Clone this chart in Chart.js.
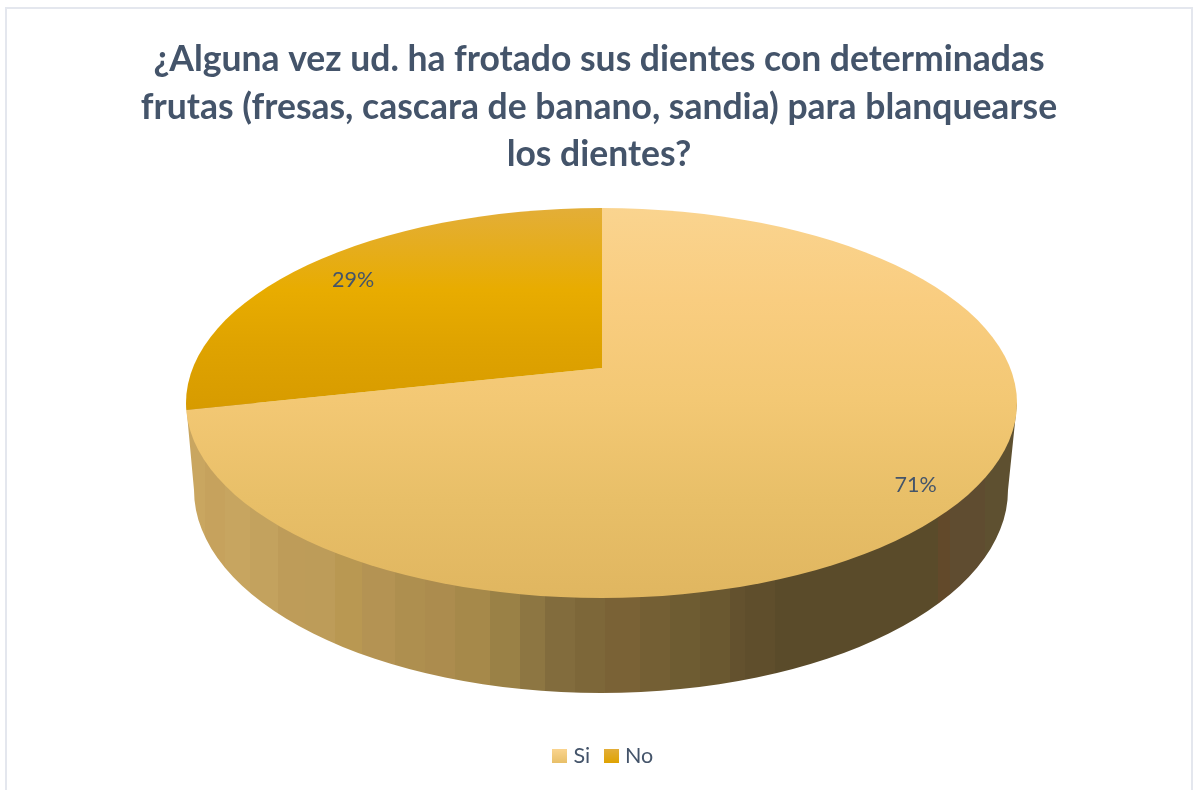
<!DOCTYPE html>
<html lang="es">
<head>
<meta charset="utf-8">
<title>Blanqueamiento con frutas</title>
<script src="https://cdn.jsdelivr.net/npm/chart.js@4/dist/chart.umd.min.js"></script>
<style>
    html, body { margin: 0; padding: 0; background: #fff; overflow: hidden; }
    #frame { position: absolute; left: 5px; top: 7px; width: 1184px; height: 790px; border: 2px solid #e4e7ee; }
    #chart { position: absolute; left: 0; top: 0; }
</style>
</head>
<body>
<div id="frame"></div>
<canvas id="chart" width="1193" height="790"></canvas>
<script>
const TITLE_LINES = [
    '¿Alguna vez ud. ha frotado sus dientes con determinadas',
    'frutas (fresas, cascara de banano, sandia) para blanquearse',
    'los dientes?',
];
const CATEGORIES = ['Si', 'No'];
const VALUES = [71, 29];

// Estimated distance of each % label from the apex, along its slice's middle angle
const LABEL_RADIUS = [397, 315];

const TEXT_COLOR = '#44546a';
const FONT = "Lato, sans-serif";

// Geometry of the tilted disc (page pixels)
const TOP_FACE = { x: 601.5, y: 403, rx: 415.5, ry: 195 };
const BOTTOM_FACE = { x: 601, y: 490, rx: 407, ry: 203 };
const APEX = { x: 602, y: 368 };
const TILT = 0.393;

// Top-face shading, [page y, colour]
const FACE_SHADES = [
    [[208, '#fad48f'], [300, '#f9cd80'], [400, '#f3c874'], [500, '#e8bf68'], [598, '#e0b660']],
    [[208, '#e3ae38'], [290, '#e8ac00'], [345, '#dfa300'], [410, '#d79b00']],
];

// Side wall shading, [band start x, colour]
const WALL_BANDS = [
    [186, '#c9a660'], [205, '#c6a25d'], [225, '#c7a560'], [250, '#c3a25e'], [278, '#be9c59'],
    [305, '#bd9c59'], [335, '#b99852'], [362, '#b49353'], [395, '#ae8f4f'], [425, '#ac8c4e'],
    [455, '#a6894a'], [490, '#9a8146'], [520, '#8d7642'], [545, '#826c3d'], [575, '#7d6739'],
    [605, '#7a6236'], [640, '#745f34'], [670, '#6e5c32'], [700, '#6a5830'], [730, '#63512e'],
    [745, '#5f4e2c'], [775, '#5a4b2a'], [938, '#62492a'], [950, '#5f4c30'], [985, '#5e5030'],
];

function faceGradient(chart, index) {
    const area = chart.chartArea;
    if (!area) return FACE_SHADES[index][0][1];
    const centerY = (area.top + area.bottom) / 2;
    const toUser = y => centerY + (y - APEX.y) / TILT;
    const shades = FACE_SHADES[index];
    const first = shades[0][0];
    const last = shades[shades.length - 1][0];
    const grad = chart.ctx.createLinearGradient(0, toUser(first), 0, toUser(last));
    shades.forEach(([y, color]) => grad.addColorStop((y - first) / (last - first), color));
    return grad;
}

function swatch(index) {
    const c = document.createElement('canvas');
    c.width = 15;
    c.height = 14;
    const g = c.getContext('2d');
    const grad = g.createLinearGradient(0, 0, 0, 14);
    grad.addColorStop(0, FACE_SHADES[index][0][1]);
    grad.addColorStop(1, FACE_SHADES[index][FACE_SHADES[index].length - 2][1]);
    g.fillStyle = grad;
    g.fillRect(0, 0, 15, 14);
    return c;
}

function drawWall(ctx) {
    const left = WALL_BANDS[0][0];
    const right = TOP_FACE.x + TOP_FACE.rx;
    const grad = ctx.createLinearGradient(left, 0, right, 0);
    WALL_BANDS.forEach(([x, color], i) => {
        const next = i + 1 < WALL_BANDS.length ? WALL_BANDS[i + 1][0] : right;
        grad.addColorStop((x - left) / (right - left), color);
        grad.addColorStop((next - left) / (right - left), color);
    });
    ctx.save();
    ctx.fillStyle = grad;
    ctx.beginPath();
    ctx.moveTo(TOP_FACE.x + TOP_FACE.rx, TOP_FACE.y);
    ctx.lineTo(BOTTOM_FACE.x + BOTTOM_FACE.rx, BOTTOM_FACE.y);
    ctx.ellipse(BOTTOM_FACE.x, BOTTOM_FACE.y, BOTTOM_FACE.rx, BOTTOM_FACE.ry, 0, 0, Math.PI);
    ctx.lineTo(TOP_FACE.x - TOP_FACE.rx, TOP_FACE.y);
    ctx.closePath();
    ctx.fill();
    ctx.restore();
}

// Draws the side wall, then tilts the library's arcs into the elliptical top face
const tiltedPie = {
    id: 'tiltedPie',
    afterLayout(chart) {
        // legend sits a little right of the canvas centre in the original
        chart.legend.left += 6;
        chart.legend.right += 6;
    },
    beforeDatasetsDraw(chart) {
        const { ctx } = chart;
        const arc = chart.getDatasetMeta(0).data[0];
        drawWall(ctx);
        ctx.save();
        ctx.beginPath();
        ctx.ellipse(TOP_FACE.x, TOP_FACE.y, TOP_FACE.rx, TOP_FACE.ry, 0, 0, Math.PI * 2);
        ctx.clip();
        ctx.translate(APEX.x, APEX.y);
        ctx.scale(1, TILT);
        ctx.translate(-arc.x, -arc.y);
    },
    afterDatasetsDraw(chart) {
        const { ctx } = chart;
        ctx.restore();
        ctx.save();
        ctx.font = '21.5px ' + FONT;
        ctx.fillStyle = TEXT_COLOR;
        ctx.textAlign = 'center';
        ctx.textBaseline = 'middle';
        chart.getDatasetMeta(0).data.forEach((arc, i) => {
            const mid = (arc.startAngle + arc.endAngle) / 2;
            const x = APEX.x + Math.cos(mid) * LABEL_RADIUS[i];
            const y = APEX.y + Math.sin(mid) * LABEL_RADIUS[i] * 0.47;
            ctx.fillText(VALUES[i] + '%', x, y + 2.5);
        });
        ctx.restore();
    },
};

new Chart(document.getElementById('chart'), {
    type: 'pie',
    data: {
        labels: CATEGORIES,
        datasets: [{
            data: VALUES,
            backgroundColor: ctx => faceGradient(ctx.chart, ctx.dataIndex),
            borderWidth: 0,
            radius: 800,
            clip: false,
        }],
    },
    options: {
        responsive: false,
        animation: false,
        events: [],
        layout: { padding: { top: 36, bottom: 13, left: 5 } },
        plugins: {
            tooltip: { enabled: false },
            title: {
                display: true,
                text: TITLE_LINES,
                color: TEXT_COLOR,
                font: { family: FONT, size: 35.5, weight: 'bold', lineHeight: 1.335 },
                padding: 0,
            },
            legend: {
                position: 'bottom',
                labels: {
                    color: TEXT_COLOR,
                    font: { family: FONT, size: 21.5 },
                    usePointStyle: true,
                    boxWidth: 6,
                    boxHeight: 6,
                    padding: 18,
                    generateLabels: () => CATEGORIES.map((text, i) => ({
                        text,
                        index: i,
                        pointStyle: swatch(i),
                        fontColor: TEXT_COLOR,
                        lineWidth: 0,
                    })),
                },
            },
        },
    },
    plugins: [tiltedPie],
});
</script>
</body>
</html>
